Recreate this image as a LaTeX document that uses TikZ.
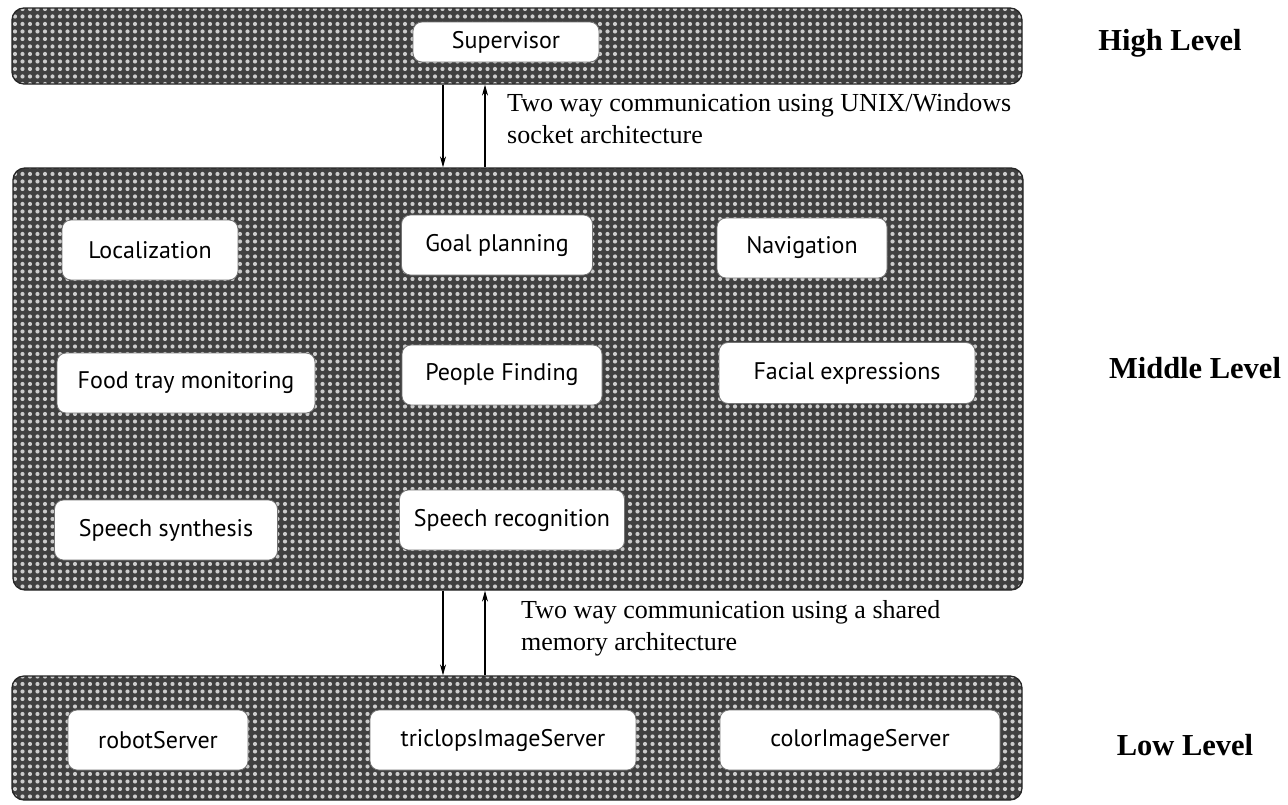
\documentclass[tikz,border=0pt]{standalone}
\usepackage{fontspec}
\setmainfont{Liberation Serif}
\newfontfamily\boxfont{PT Sans}
\usetikzlibrary{patterns.meta,arrows.meta}
\begin{document}
\begin{tikzpicture}[x=1pt,y=-1pt,
  panel/.style={draw=black!85,line width=1.3pt,rounded corners=12pt,
    preaction={fill=black!75},
    pattern={Dots[distance=7.5pt,radius=2.1pt]},pattern color=white!80!black,
    inner sep=0pt},
  module/.style={draw=black!55,line width=0.8pt,fill=white,rounded corners=9pt,
    inner sep=0pt,font=\boxfont\fontsize{24}{27}\selectfont},
  note/.style={font=\fontsize{26}{32}\selectfont,align=left,anchor=north west,inner sep=0pt},
  level/.style={font=\bfseries\fontsize{30.5}{34}\selectfont,inner sep=0pt},
  link/.style={line width=1.1pt,-{Stealth[length=11pt,width=6pt]}}]
\useasboundingbox (0,0) rectangle (1288,804);
\fill[white] (0,0) rectangle (1288,804);
% panels
\node[panel,minimum width=1010pt,minimum height=76pt] (top) at (517,46) {};
\node[panel,minimum width=1010pt,minimum height=422pt] (mid) at (518,379) {};
\node[panel,minimum width=1010pt,minimum height=124pt] (low) at (517,738) {};
% modules
\node[module,minimum width=186pt,minimum height=40pt] (sup) at (506,42) {Supervisor};
\node[module,minimum width=176pt,minimum height=60pt] (loc) at (150,250) {Localization};
\node[module,minimum width=191pt,minimum height=60pt] (goal) at (497,245) {Goal planning};
\node[module,minimum width=170pt,minimum height=60pt] (nav) at (802,248) {Navigation};
\node[module,minimum width=258pt,minimum height=60pt] (food) at (186,383) {Food tray monitoring};
\node[module,minimum width=200pt,minimum height=60pt] (people) at (502,375) {People Finding};
\node[module,minimum width=256pt,minimum height=61pt] (face) at (847,373) {Facial expressions};
\node[module,minimum width=223pt,minimum height=60pt] (synth) at (166,530) {Speech synthesis};
\node[module,minimum width=225pt,minimum height=60pt] (recog) at (512,520) {Speech recognition};
\node[module,minimum width=180pt,minimum height=60pt] (robot) at (158,740) {robotServer};
\node[module,minimum width=266pt,minimum height=60pt] (tric) at (503,740) {triclopsImageServer};
\node[module,minimum width=280pt,minimum height=60pt] (color) at (860,740) {colorImageServer};
% connectors
\coordinate (a1) at (443,0);
\coordinate (a2) at (485,0);
\draw[link] (top.south -| a1) -- (mid.north -| a1);
\draw[link] (mid.north -| a2) -- (top.south -| a2);
\draw[link] (mid.south -| a1) -- (low.north -| a1);
\draw[link] (low.north -| a2) -- (mid.south -| a2);
% notes
\node[note] (n1) at (507,93) {Two way communication using UNIX/Windows\\socket architecture};
\node[note] (n2) at (521,600) {Two way communication using a shared\\memory architecture};
% level labels
\node[level] (hl) at (1170,43) {High Level};
\node[level] (ml) at (1195,368) {Middle Level};
\node[level] (ll) at (1185,745) {Low Level};
\end{tikzpicture}
\end{document}
